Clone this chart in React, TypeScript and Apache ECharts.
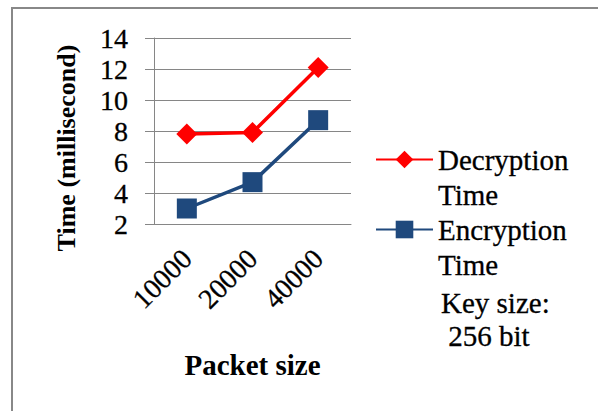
import React, { useEffect, useRef } from "react";
import * as echarts from "echarts";

const categories = ["10000", "20000", "40000"];
const decryptionTime = [7.8, 7.9, 12.1];
const encryptionTime = [3.0, 4.7, 8.7];
const yTicks = { min: 2, max: 14, interval: 2 };
const noteLines = ["Key size:", " 256 bit"];

const FONT = "Liberation Serif, serif";

export default function App() {
  const ref = useRef<HTMLDivElement>(null);
  useEffect(() => {
    if (!ref.current) return;
    const chart = echarts.init(ref.current, null, { renderer: "svg" });
    const thin = { textBorderColor: "#000", textBorderWidth: 0.3 };
    chart.setOption({
      animation: false,
      grid: { left: 154, right: 247, top: 38, bottom: 187, containLabel: false },
      xAxis: {
        type: "category",
        data: categories,
        boundaryGap: true,
        name: "Packet size",
        nameLocation: "middle",
        nameGap: 126,
        nameTextStyle: { fontFamily: FONT, fontSize: 29, fontWeight: "bold", color: "#000" },
        axisLine: { lineStyle: { color: "#868686", width: 1 } },
        axisTick: { show: false },
        axisLabel: { rotate: 45, margin: 30, fontFamily: FONT, fontSize: 28, color: "#000", ...thin },
      },
      yAxis: {
        type: "value",
        min: yTicks.min,
        max: yTicks.max,
        interval: yTicks.interval,
        name: "Time (millisecond)",
        nameLocation: "middle",
        nameGap: 75,
        nameRotate: 90,
        nameTextStyle: { fontFamily: FONT, fontSize: 26, fontWeight: "bold", color: "#000", padding: [0, 34, 0, 0] },
        axisLine: { show: true, lineStyle: { color: "#868686", width: 1 } },
        axisTick: { show: true, inside: false, length: 9, lineStyle: { color: "#868686" } },
        splitLine: { show: true, lineStyle: { color: "#868686", width: 1 } },
        axisLabel: { margin: 26, fontFamily: FONT, fontSize: 28, color: "#000", ...thin },
      },
      legend: {
        orient: "vertical",
        left: 375,
        top: 107,
        padding: 0,
        itemGap: -35,
        itemWidth: 57,
        itemHeight: 22,
        data: ["Decryption Time", "Encryption Time"],
        formatter: (name: string) => "\u00A0\n" + name.replace(" ", "\n"),
        textStyle: { fontFamily: FONT, fontSize: 29, lineHeight: 35, color: "#000", ...thin },
      },
      graphic: [
        {
          type: "rect",
          shape: { x: 12, y: 8, width: 620, height: 440 },
          style: { fill: "none", stroke: "#888888", lineWidth: 2 },
          silent: true,
        },
        {
          type: "text",
          x: 441,
          y: 288,
          style: { text: noteLines[0], fontFamily: FONT, fontSize: 29, fill: "#000", stroke: "#000", lineWidth: 0.3 },
        },
        {
          type: "text",
          x: 441,
          y: 321,
          style: { text: noteLines[1], fontFamily: FONT, fontSize: 29, fill: "#000", stroke: "#000", lineWidth: 0.3 },
        },
      ],
      series: [
        {
          name: "Decryption Time",
          type: "line",
          data: decryptionTime,
          symbol: "diamond",
          symbolSize: 21,
          itemStyle: { color: "#FF0000" },
          lineStyle: { color: "#FF0000", width: 3.5 },
        },
        {
          name: "Encryption Time",
          type: "line",
          data: encryptionTime,
          symbol: "rect",
          symbolSize: 20,
          itemStyle: { color: "#1F497D" },
          lineStyle: { color: "#1F497D", width: 3.5 },
        },
      ],
    });
    return () => chart.dispose();
  }, []);
  return (
    <div
      ref={ref}
      style={{ position: "fixed", left: 0, top: 0, width: 598, height: 411, background: "#fff" }}
    />
  );
}
